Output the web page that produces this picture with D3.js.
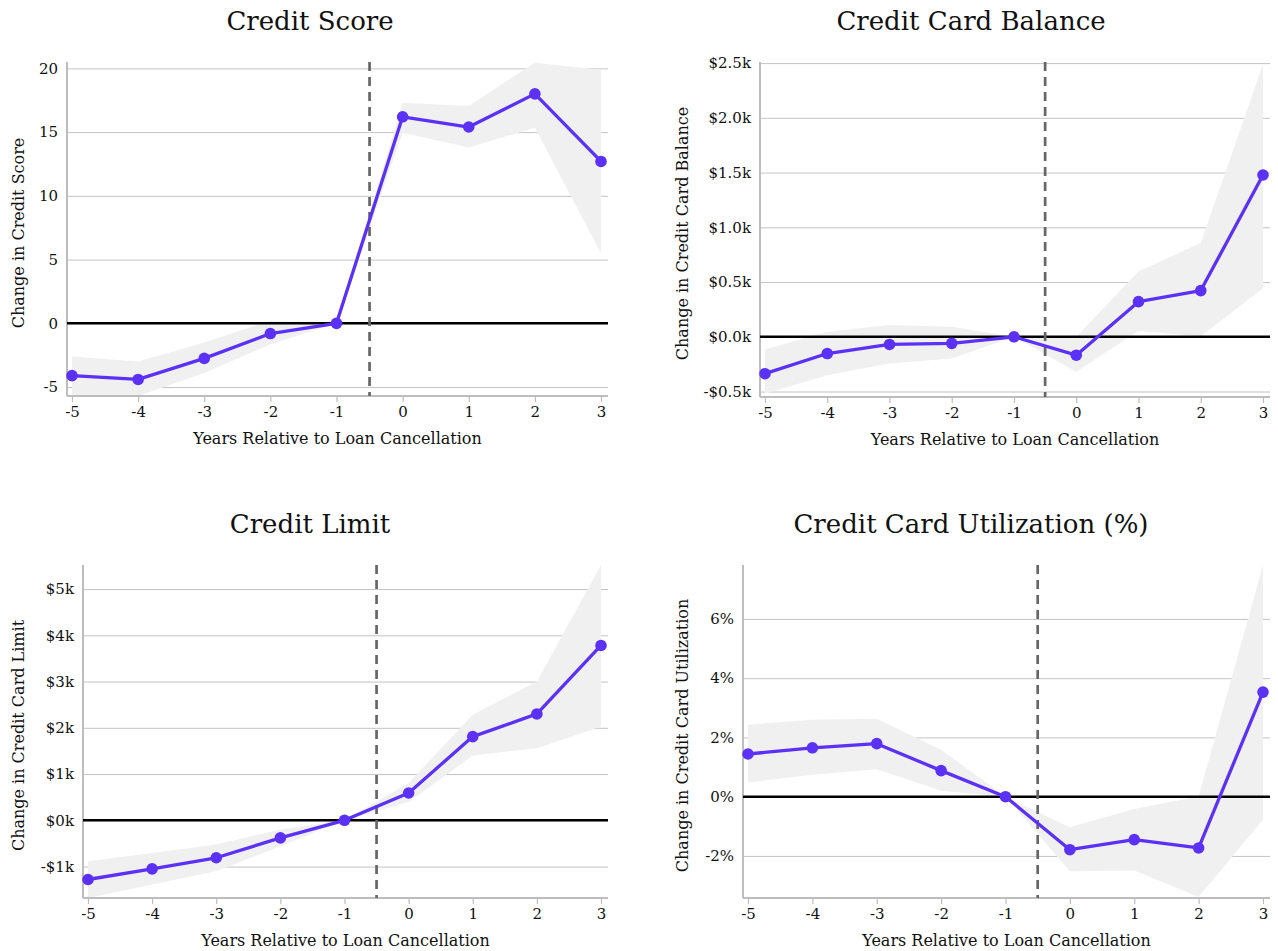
<!DOCTYPE html>
<html>
<head>
<meta charset="utf-8">
<script src="https://cdn.jsdelivr.net/npm/d3@7"></script>
<style>
  html, body { margin: 0; padding: 0; background: #ffffff; }
  svg { display: block; }
  text { font-family: "DejaVu Serif", serif; fill: #111; }
</style>
</head>
<body>
<svg id="chart" width="1278" height="951"></svg>
<script>
// Event-study estimates: years relative to loan cancellation
const years = [-5, -4, -3, -2, -1, 0, 1, 2, 3];

// Credit score
const scoreEst   = [-4.1, -4.4, -2.75, -0.8, 0, 16.2, 15.4, 18.0, 12.7];
const scoreLower = [-5.6, -5.7, -3.9, -1.65, 0, 14.95, 13.8, 15.35, 5.5];
const scoreUpper = [-2.6, -3.0, -1.5, 0.2, 0, 17.3, 17.05, 20.45, 19.9];
const scoreTicks = [-5, 0, 5, 10, 15, 20];

// Credit card balance ($k)
const balanceEst   = [-0.337, -0.153, -0.07, -0.06, 0, -0.168, 0.321, 0.422, 1.478];
const balanceLower = [-0.52, -0.352, -0.245, -0.199, 0, -0.32, 0.052, 0.006, 0.444];
const balanceUpper = [-0.116, 0.046, 0.107, 0.092, 0, 0.0, 0.597, 0.857, 2.49];
const balanceTicks = [-0.5, 0, 0.5, 1.0, 1.5, 2.0, 2.5];

// Credit card limit ($k)
const limitEst   = [-1.28, -1.05, -0.81, -0.38, 0, 0.59, 1.81, 2.30, 3.78];
const limitLower = [-1.68, -1.39, -1.10, -0.56, 0, 0.39, 1.40, 1.56, 2.03];
const limitUpper = [-0.885, -0.705, -0.525, -0.2, 0, 0.806, 2.28, 3.0, 5.52];
const limitTicks = [-1, 0, 1, 2, 3, 4, 5];

// Credit card utilization (%)
const utilEst   = [1.44, 1.65, 1.79, 0.88, 0, -1.79, -1.45, -1.73, 3.53];
const utilLower = [0.48, 0.74, 0.93, 0.2, 0, -2.52, -2.49, -3.39, -0.78];
const utilUpper = [2.43, 2.6, 2.63, 1.58, 0, -1.03, -0.42, 0.01, 7.82];
const utilTicks = [-2, 0, 2, 4, 6];

const xTicks = [-5, -4, -3, -2, -1, 0, 1, 2, 3];
const xTitle = "Years Relative to Loan Cancellation";
const cutoff = -0.5;

// plain hyphen-minus for negative labels
const sign = d => (d < 0 ? "-" : "");
const intFmt = d => sign(d) + Math.abs(d).toFixed(0);

const panels = [
  { title: "Credit Score", yTitle: "Change in Credit Score",
    est: scoreEst, lo: scoreLower, hi: scoreUpper, ticks: scoreTicks,
    fmt: intFmt,
    domain: [-5.7, 20.5],
    box: { left: 67, right: 608, top: 62, bottom: 396 }, cx: 310, ylx: 18 },
  { title: "Credit Card Balance", yTitle: "Change in Credit Card Balance",
    est: balanceEst, lo: balanceLower, hi: balanceUpper, ticks: balanceTicks,
    fmt: d => sign(d) + "$" + Math.abs(d).toFixed(1) + "k",
    domain: [-0.55, 2.51],
    box: { left: 760, right: 1270, top: 62, bottom: 397 }, cx: 971, ylx: 682 },
  { title: "Credit Limit", yTitle: "Change in Credit Card Limit",
    est: limitEst, lo: limitLower, hi: limitUpper, ticks: limitTicks,
    fmt: d => sign(d) + "$" + Math.abs(d).toFixed(0) + "k",
    domain: [-1.68, 5.52],
    box: { left: 83, right: 608, top: 565, bottom: 898 }, cx: 310, ylx: 18 },
  { title: "Credit Card Utilization (%)", yTitle: "Change in Credit Card Utilization",
    est: utilEst, lo: utilLower, hi: utilUpper, ticks: utilTicks,
    fmt: d => intFmt(d) + "%",
    domain: [-3.42, 7.82],
    box: { left: 743, right: 1270, top: 565, bottom: 898 }, cx: 971, ylx: 682 }
];

const svg = d3.select("#chart");
const lineColor = "#5b32f5";

panels.forEach(p => {
  const b = p.box;
  const g = svg.append("g");
  const x = d3.scaleLinear().domain([-5, 3]).range([b.left + 5, b.right - 7]);
  const y = d3.scaleLinear().domain(p.domain).range([b.bottom, b.top]);

  const rows = years.map((yr, i) => ({ yr, est: p.est[i], lo: p.lo[i], hi: p.hi[i] }));

  // title
  g.append("text")
    .attr("x", p.cx).attr("y", b.top - 32)
    .attr("text-anchor", "middle")
    .style("font-size", "26px")
    .text(p.title);

  // horizontal gridlines with tick labels
  const yAxis = d3.axisLeft(y).tickValues(p.ticks).tickFormat(p.fmt)
    .tickSize(-(b.right - b.left)).tickPadding(9);
  const ya = g.append("g").attr("transform", `translate(${b.left},0)`).call(yAxis);
  ya.select(".domain").remove();
  ya.selectAll(".tick line").attr("stroke", "#c4c4c4").attr("stroke-width", 1);
  ya.selectAll(".tick text").style("font-size", "15px").attr("fill", "#111")
    .style("font-family", "DejaVu Serif, serif");

  // confidence band
  g.append("path")
    .datum(rows)
    .attr("fill", "#f0f0f0")
    .attr("d", d3.area().x(d => x(d.yr)).y0(d => y(d.lo)).y1(d => y(d.hi)));

  // x axis
  const xAxis = d3.axisBottom(x).tickValues(xTicks).tickFormat(intFmt)
    .tickSize(6).tickSizeOuter(0).tickPadding(4);
  const xa = g.append("g").attr("transform", `translate(0,${b.bottom})`).call(xAxis);
  xa.select(".domain").attr("d", `M${b.left},0H${b.right}`)
    .attr("stroke", "#bdbdbd").attr("stroke-width", 2);
  xa.selectAll(".tick line").attr("stroke", "#bdbdbd").attr("stroke-width", 1.2);
  xa.selectAll(".tick text").style("font-size", "15px").attr("fill", "#111")
    .style("font-family", "DejaVu Serif, serif");

  // y axis line
  g.append("line")
    .attr("x1", b.left).attr("x2", b.left)
    .attr("y1", b.top).attr("y2", b.bottom)
    .attr("stroke", "#bdbdbd").attr("stroke-width", 2);

  // zero reference line
  g.append("line")
    .attr("x1", b.left).attr("x2", b.right)
    .attr("y1", y(0)).attr("y2", y(0))
    .attr("stroke", "#000").attr("stroke-width", 2.5);

  // treatment timing marker
  g.append("line")
    .attr("x1", x(cutoff)).attr("x2", x(cutoff))
    .attr("y1", b.top).attr("y2", b.bottom)
    .attr("stroke", "#666").attr("stroke-width", 2.7)
    .attr("stroke-dasharray", "9,6");

  // estimate line and markers
  g.append("path")
    .datum(rows)
    .attr("fill", "none")
    .attr("stroke", lineColor)
    .attr("stroke-width", 3.3)
    .attr("stroke-linejoin", "round")
    .attr("d", d3.line().x(d => x(d.yr)).y(d => y(d.est)));

  g.selectAll("circle.pt").data(rows).enter().append("circle")
    .attr("class", "pt")
    .attr("cx", d => x(d.yr)).attr("cy", d => y(d.est))
    .attr("r", 5.8).attr("fill", lineColor);

  // axis titles
  g.append("text")
    .attr("x", (b.left + b.right) / 2).attr("y", b.bottom + 48)
    .attr("text-anchor", "middle")
    .style("font-size", "16px")
    .text(xTitle);

  g.append("text")
    .attr("transform", `translate(${p.ylx + 6},${(b.top + b.bottom) / 2 + 4}) rotate(-90)`)
    .attr("text-anchor", "middle")
    .style("font-size", "16px")
    .text(p.yTitle);
});
</script>
</body>
</html>
